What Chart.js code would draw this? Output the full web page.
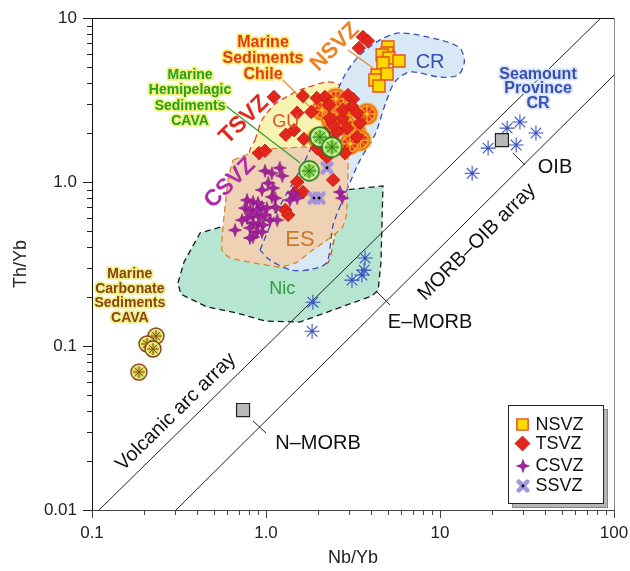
<!DOCTYPE html>
<html><head><meta charset="utf-8">
<script src="https://cdn.jsdelivr.net/npm/chart.js@4/dist/chart.umd.min.js"></script>
<style>html,body{margin:0;padding:0;background:#fff;}canvas{display:block;}</style>
</head><body>
<canvas id="c" width="630" height="571"></canvas>
<script>
// ---------------- DATA (Nb/Yb, Th/Yb) ----------------
const xTickValues = [0.1, 1, 10, 100];
const xTickLabels = ['0.1', '1.0', '10', '100'];
const yTickValues = [0.01, 0.1, 1, 10];
const yTickLabels = ['0.01', '0.1', '1.0', '10'];
const minorSteps = [2, 3, 4, 5, 6, 7, 8, 9];

const nsvz = [[5.02,6.65],[4.96,6.12],[4.65,5.95],[5.09,5.70],[4.70,5.32],[5.81,5.47],[4.35,4.49],[4.96,4.56],[4.23,4.19],[4.46,3.85]];
const tsvz = [[3.61,7.66],[3.85,7.24],[3.42,6.56],[1.11,3.30],[1.63,3.34],[1.96,3.25],[2.18,3.30],[2.30,2.95],[1.51,2.64],[1.82,2.67],[2.96,3.39],[3.16,3.21],[3.12,2.90],[1.30,1.94],[1.45,2.07],[1.65,1.83],[0.912,1.50],[0.987,1.55],[2.10,1.52],[2.24,1.42],[2.84,1.50],[2.43,1.80],[2.56,2.02],[2.74,2.45],[2.43,2.23],[2.18,1.99],[2.77,2.75],[3.33,2.64],[3.47,2.29],[3.33,1.88],[1.96,1.61],[2.43,1.03],[1.51,1.00],[1.63,0.869],[1.47,0.857],[1.29,0.675],[1.34,0.630],[2.92,2.13],[2.33,2.45]];
const csvz = [[0.987,1.17],[1.08,1.13],[1.20,1.22],[1.24,1.09],[0.948,0.894],[1.03,0.986],[1.10,0.918],[1.08,0.811],[1.13,0.798],[0.778,0.776],[0.842,0.755],[0.900,0.745],[0.757,0.693],[0.809,0.675],[0.887,0.675],[0.948,0.704],[1.01,0.693],[0.842,0.630],[0.924,0.612],[0.987,0.630],[0.778,0.603],[0.728,0.586],[1.055,0.586],[0.842,0.562],[0.900,0.547],[0.961,0.547],[0.809,0.525],[0.887,0.496],[0.948,0.496],[0.842,0.462],[0.809,0.456],[0.664,0.509],[1.16,0.586],[1.13,0.704],[1.373,0.776],[1.51,0.798],[1.43,0.857],[2.66,0.869],[2.74,0.798]];
const ssvz = [[2.24,1.22],[1.89,0.798],[2.02,0.798]];
const sedChile = [[2.10,2.75],[2.74,2.67],[3.80,2.60],[2.39,2.39],[3.25,2.02],[3.47,1.80],[3.04,1.71],[1.99,1.85],[2.52,3.21],[2.84,2.23]];
const sedHemipelagic = [[2.04,1.88],[2.39,1.63],[1.77,1.17]];
const sedCarbonate = [[0.233,0.115],[0.207,0.103],[0.224,0.0959],[0.186,0.0693]];
const seamountCR = [[28.8,2.32],[24.3,2.13],[35.6,1.99],[27.4,1.68],[18.9,1.61],[15.3,1.13],[3.71,0.344],[3.66,0.290],[3.56,0.271],[3.12,0.252],[1.86,0.185],[1.84,0.123]];
const referenceComps = [[0.738,0.0407],[22.7,1.80]]; // N-MORB, OIB

const regionNic = [[0.312,0.242],[0.338,0.325],[0.418,0.489],[0.581,0.540],[1.567,0.724],[2.84,0.894],[4.70,0.946],[4.58,0.325],[4.41,0.219],[4.06,0.202],[1.567,0.140],[0.987,0.142],[0.680,0.159],[0.458,0.173],[0.324,0.207]];
const regionCR = [[0.924,0.385],[1.127,0.630],[1.567,1.18],[2.18,2.39],[2.84,4.49],[3.47,5.95],[4.52,7.35],[5.89,8.11],[10,7.35],[13.0,6.56],[13.8,5.40],[12.7,4.49],[10,4.36],[6.73,4.69],[5.51,4.08],[4.83,2.95],[4.23,1.94],[3.47,1.36],[2.84,0.834],[2.43,0.547],[2.24,0.325],[1.86,0.295],[1.41,0.290],[1.055,0.334]];
const regionGU = [[0.865,1.80],[0.948,2.39],[1.127,2.99],[1.567,3.64],[2.24,4.08],[2.59,3.96],[3.47,3.16],[2.96,1.03],[2.49,0.475],[2.27,0.321],[1.91,0.308],[1.47,0.325],[0.709,0.776],[0.809,1.57]];
const regionES = [[0.646,1.36],[0.924,1.57],[1.567,1.63],[2.77,1.63],[2.96,1.46],[2.90,0.630],[2.74,0.525],[2.33,0.456],[1.79,0.374],[1.51,0.325],[1.203,0.303],[0.621,0.344],[0.558,0.385],[0.566,0.532],[0.605,1.03]];

const volcanicArcLine = [[0.1097,0.01],[84.1,10]];
const morbOibLine = [[0.304,0.01],[100,4.49]];
const leaderNMorb = [[0.842,0.0349],[1.0,0.0295]];
const leaderEMorb = [[4.29,0.216],[5.16,0.178]];
const leaderOib = [[26.3,1.50],[30.8,1.27]];
const leaderChile = [[1.25,4.19],[1.79,2.86]];
const leaderNsvz = [[2.96,6.38],[4.12,4.96]];
const leaderHemi = [[0.530,3.16],[1.567,1.31]];

// text annotations: anchors in data units
const annotations = [
  {key:'nic', text:['Nic'], at:[1.24,0.223]},
  {key:'cr', text:['CR'], at:[8.77,5.32]},
  {key:'gu', text:['GU'], at:[1.30,2.32]},
  {key:'es', text:['ES'], at:[1.567,0.442]},
  {key:'chile', text:['Marine','Sediments','Chile'], at:[0.961,5.62]},
  {key:'hemi', text:['Marine','Hemipelagic','Sediments','CAVA'], at:[0.366,3.25]},
  {key:'carb', text:['Marine','Carbonate','Sediments','CAVA'], at:[0.165,0.202]},
  {key:'sea', text:['Seamount','Province','CR'], at:[36.6,3.69]},
  {key:'nsvz', text:['NSVZ'], at:[2.49,6.65]},
  {key:'tsvz', text:['TSVZ'], at:[0.748,2.39]},
  {key:'csvz', text:['CSVZ'], at:[0.621,0.986]},
  {key:'arc', text:['Volcanic arc array'], at:[0.304,0.0396]},
  {key:'morboib', text:['MORB\u2013OIB array'], at:[16.3,0.430]},
  {key:'oib', text:['OIB'], at:[45.8,1.22]},
  {key:'emorb', text:['E\u2013MORB'], at:[8.77,0.140]},
  {key:'nmorb', text:['N\u2013MORB'], at:[1.99,0.0256]}
];

// ---------------- STYLES ----------------
const FONT = '"Liberation Sans", Arial, Helvetica, sans-serif';
const annStyle = {
  nic:{color:'#2f9e3a', font:'18px', lh:18},
  cr:{color:'#3a4fae', font:'20px', lh:20},
  gu:{color:'#e0522c', font:'18px', lh:18},
  es:{color:'#c8782e', font:'22px', lh:22},
  chile:{color:'#e3371f', font:'bold 16px', lh:16, halo:'#f5ef6c'},
  hemi:{color:'#22a022', font:'bold 14px', lh:15.3, halo:'#f2f07a'},
  carb:{color:'#8a4414', font:'bold 14px', lh:14.5, halo:'#eef08a'},
  sea:{color:'#3551b3', font:'bold 16px', lh:14.5, halo:'#dbe3f6'},
  nsvz:{color:'#f0821e', font:'bold 22px', lh:22, rot:'arc'},
  tsvz:{color:'#e3271b', font:'bold 23px', lh:23, rot:'arc'},
  csvz:{color:'#b02ca8', font:'bold 23px', lh:23, rot:'arc'},
  arc:{color:'#111', font:'20px', lh:20, rot:'arc'},
  morboib:{color:'#111', font:'20px', lh:20, rot:'morb'},
  oib:{color:'#111', font:'20px', lh:20},
  emorb:{color:'#111', font:'20px', lh:20},
  nmorb:{color:'#111', font:'20px', lh:20}
};

function mk(size, fn){ const c=document.createElement('canvas'); c.width=size; c.height=size; fn(c.getContext('2d'), size/2); return c; }
function ringSym(r, fill, edge, spoke, ring){
  const s = Math.ceil(2*r+4);
  return mk(s, (g,m)=>{
    g.beginPath(); g.arc(m,m,r,0,2*Math.PI); g.fillStyle=fill; g.fill();
    g.beginPath(); g.arc(m,m,r*0.78,0,2*Math.PI); g.strokeStyle=ring; g.lineWidth=1.3; g.stroke();
    g.strokeStyle=spoke; g.lineWidth=1;
    for(let i=0;i<8;i++){const a=i*Math.PI/4; g.beginPath(); g.moveTo(m,m); g.lineTo(m+r*0.76*Math.cos(a), m+r*0.76*Math.sin(a)); g.stroke();}
    g.beginPath(); g.arc(m,m,r,0,2*Math.PI); g.strokeStyle=edge; g.lineWidth=1.4; g.stroke();
  });
}
const symChile = ringSym(10.5,'#e8391d','#f3a21e','#f8d327','#f8d327');
const symHemi = ringSym(10,'#8fd64a','#1f7a1f','#1f7a1f','#f0fbd8');
const symCarb = ringSym(8,'#cdd94a','#8a4414','#8a4414','#f2f4a8');
const symCsvz = mk(16,(g,m)=>{
  g.beginPath(); const R=6.6, r=2.4;
  for(let i=0;i<8;i++){const a=-Math.PI/2+i*Math.PI/4; const rr=i%2?r:R; g.lineTo(m+rr*Math.cos(a), m+rr*Math.sin(a));}
  g.closePath(); g.fillStyle='#a4229f'; g.fill(); g.strokeStyle='#7e1479'; g.lineWidth=0.6; g.stroke();
});
const symSsvz = mk(16,(g,m)=>{
  g.strokeStyle='#a494dc'; g.lineWidth=4.6; g.lineCap='round';
  g.beginPath(); g.moveTo(m-4.3,m-4.3); g.lineTo(m+4.3,m+4.3); g.moveTo(m+4.3,m-4.3); g.lineTo(m-4.3,m+4.3); g.stroke();
  g.beginPath(); g.arc(m,m,1.4,0,2*Math.PI); g.fillStyle='#000'; g.fill();
});

const P = a => a.map(p=>({x:p[0], y:p[1]}));
const closed = a => P(a.concat([a[0]]));

function region(label, arr, fill, border, order, tension, mode){
  return {label, type:'line', data:closed(arr), order, tension,
    fill: mode==='border' ? false : 'shape',
    backgroundColor: fill, borderColor: border,
    borderWidth: mode==='fill' ? 0 : 1.3, borderDash:[6,4],
    pointRadius:0, pointHoverRadius:0};
}
function segment(arr, color, width, order){
  return {type:'line', data:P(arr), borderColor:color, borderWidth:width, pointRadius:0, fill:false, tension:0, order};
}

const datasets = [
  region('Nic', regionNic, '#b6e5d2', '#1a1a1a', 100, 0, 'both'),
  region('GU', regionGU, '#f7f3b2', '#e2452c', 90, 0.2, 'both'),
  region('CR', regionCR, '#d8e8f5', 'rgba(0,0,0,0)', 80, 0.3, 'fill'),
  region('ES', regionES, '#efd2b4', 'rgba(0,0,0,0)', 70, 0.15, 'fill'),
  region('CR', regionCR, 'rgba(0,0,0,0)', '#3a4fb8', 60, 0.3, 'border'),
  region('ES', regionES, 'rgba(0,0,0,0)', '#d8852e', 50, 0.15, 'border'),
  segment(volcanicArcLine, '#222', 1, 40),
  segment(morbOibLine, '#222', 1, 40),
  segment(leaderNMorb, '#222', 1, 39),
  segment(leaderEMorb, '#222', 1, 39),
  segment(leaderOib, '#222', 1, 39),
  segment(leaderChile, '#f08a2a', 1.2, 39),
  segment(leaderNsvz, '#f08a2a', 1.2, 39),
  segment(leaderHemi, '#2aa02a', 1.2, 39),
  {label:'Marine Carbonate Sediments CAVA', data:P(sedCarbonate), pointStyle:symCarb, order:30},
  {label:'Marine Sediments Chile', data:P(sedChile), pointStyle:symChile, order:29},
  {label:'TSVZ', legend:true, data:P(tsvz), pointStyle:'rectRot', pointRadius:6.8, backgroundColor:'#e3261b', borderColor:'#c01a10', borderWidth:0.8, order:26},
  {label:'NSVZ', legend:true, data:P(nsvz), pointStyle:'rect', pointRadius:8.5, backgroundColor:'#ffd800', borderColor:'#e4501e', borderWidth:1.4, order:25},
  {label:'Marine Hemipelagic Sediments CAVA', data:P(sedHemipelagic), pointStyle:symHemi, order:22},
  {label:'CSVZ', legend:true, data:P(csvz), pointStyle:symCsvz, order:20},
  {label:'SSVZ', legend:true, data:P(ssvz), pointStyle:symSsvz, order:18},
  {label:'Seamount Province CR', data:P(seamountCR), pointStyle:'star', pointRadius:7.5, borderColor:'#3a52c0', backgroundColor:'#3a52c0', borderWidth:1.1, order:16},
  {label:'N-MORB / OIB', data:P(referenceComps), pointStyle:'rect', pointRadius:9.2, backgroundColor:'#b8b8b8', borderColor:'#222', borderWidth:1.2, order:15}
];
const legendOrder = ['NSVZ','TSVZ','CSVZ','SSVZ'];

// ---------------- PLUGINS ----------------
function lineAngle(chart, seg){
  const x=chart.scales.x, y=chart.scales.y;
  return Math.atan2(y.getPixelForValue(seg[1][1])-y.getPixelForValue(seg[0][1]), x.getPixelForValue(seg[1][0])-x.getPixelForValue(seg[0][0]));
}
const decor = {
  id:'decor',
  afterDatasetsDraw(chart){
    const ctx=chart.ctx, xs=chart.scales.x, ys=chart.scales.y;
    const rots = {arc: lineAngle(chart, volcanicArcLine), morb: lineAngle(chart, morbOibLine)};
    ctx.save();
    ctx.textAlign='center'; ctx.textBaseline='middle';
    for(const an of annotations){
      const st=annStyle[an.key];
      const cx=xs.getPixelForValue(an.at[0]), cy=ys.getPixelForValue(an.at[1]);
      ctx.save(); ctx.translate(cx,cy);
      if(st.rot) ctx.rotate(rots[st.rot]);
      ctx.font = st.font+' '+FONT;
      const n=an.text.length;
      an.text.forEach((t,i)=>{
        const ty=(i-(n-1)/2)*st.lh;
        if(st.halo){ ctx.lineJoin='round'; ctx.strokeStyle=st.halo; ctx.lineWidth=3.5; ctx.strokeText(t,0,ty); }
        ctx.fillStyle=st.color; ctx.fillText(t,0,ty);
      });
      ctx.restore();
    }
    ctx.restore();
  },
  afterDraw(chart){
    const ctx=chart.ctx, a=chart.chartArea, xs=chart.scales.x, ys=chart.scales.y;
    ctx.save();
    ctx.lineWidth=1;
    ctx.strokeStyle='#111'; ctx.beginPath(); ctx.moveTo(a.left, a.top+0.5); ctx.lineTo(a.right, a.top+0.5); ctx.stroke();
    ctx.strokeStyle='#8a8a8a'; ctx.beginPath(); ctx.moveTo(a.right+0.5, a.top); ctx.lineTo(a.right+0.5, a.bottom); ctx.stroke();
    ctx.strokeStyle='#222';
    for(const v of yTickValues){
      const p=Math.round(ys.getPixelForValue(v))+0.5;
      ctx.beginPath(); ctx.moveTo(a.left-9,p); ctx.lineTo(a.left,p); ctx.stroke();
      if(v<yTickValues[yTickValues.length-1]) for(const m of minorSteps){
        const q=Math.round(ys.getPixelForValue(v*m))+0.5;
        ctx.beginPath(); ctx.moveTo(a.left-5,q); ctx.lineTo(a.left,q); ctx.stroke();
      }
    }
    ctx.strokeStyle='#444';
    for(const v of xTickValues){
      const p=Math.round(xs.getPixelForValue(v))+0.5;
      ctx.beginPath(); ctx.moveTo(p,a.bottom); ctx.lineTo(p,a.bottom+8); ctx.stroke();
      if(v<xTickValues[xTickValues.length-1]) for(const m of minorSteps){
        const q=Math.round(xs.getPixelForValue(v*m))+0.5;
        ctx.beginPath(); ctx.moveTo(q,a.bottom); ctx.lineTo(q,a.bottom+5); ctx.stroke();
      }
    }
    // legend box
    const w=95, h=98, x0=Math.round(a.right-11-w)+0.5, y0=Math.round(a.bottom-7-h)+0.5;
    ctx.fillStyle='#b5b5b5'; ctx.fillRect(x0+4,y0+4,w,h);
    ctx.strokeStyle='#888'; ctx.strokeRect(x0+4,y0+4,w,h);
    ctx.fillStyle='#fff'; ctx.fillRect(x0,y0,w,h);
    ctx.strokeStyle='#222'; ctx.strokeRect(x0,y0,w,h);
    const rows=[19,38,60,80];
    legendOrder.forEach((name,i)=>{
      const ds=chart.data.datasets.find(d=>d.legend && d.label===name);
      const sx=x0+14, sy=y0+rows[i];
      ctx.save();
      const st=ds.pointStyle;
      if(st instanceof HTMLCanvasElement){ ctx.drawImage(st, Math.round(sx-st.width/2), Math.round(sy-st.height/2)); }
      else {
        ctx.fillStyle=ds.backgroundColor; ctx.strokeStyle=ds.borderColor; ctx.lineWidth=ds.borderWidth;
        Chart.helpers.drawPoint(ctx, {pointStyle:st, radius: st==='rect'?8:7.5, borderWidth:ds.borderWidth, rotation:0}, sx, sy);
      }
      ctx.restore();
      ctx.fillStyle='#111'; ctx.font='18px '+FONT; ctx.textAlign='left'; ctx.textBaseline='middle';
      ctx.fillText(name, x0+27, sy+1);
    });
    ctx.restore();
  }
};

// ---------------- CHART ----------------
new Chart(document.getElementById('c'), {
  type:'scatter',
  data:{datasets},
  options:{
    responsive:false, animation:false, devicePixelRatio:1,
    layout:{padding:{top:18, right:16, left:0, bottom:0}},
    plugins:{legend:{display:false}, tooltip:{enabled:false}},
    events:[],
    scales:{
      x:{type:'logarithmic', min:0.1, max:100,
        afterBuildTicks:s=>{ s.ticks = xTickValues.map(v=>({value:v, major:true})); },
        afterFit:s=>{ s.height=61; s.paddingLeft=0; s.paddingRight=0; s.paddingTop=0; s.paddingBottom=0; },
        ticks:{autoSkip:false, maxRotation:0, padding:13, color:'#222', font:{family:FONT, size:17},
          callback:(v)=>xTickLabels[xTickValues.indexOf(v)]},
        grid:{display:false, drawTicks:false},
        border:{display:true, color:'#444', width:1},
        title:{display:true, text:'Nb/Yb', color:'#222', font:{family:FONT, size:18}, padding:{bottom:2, top:0}}
      },
      y:{type:'logarithmic', min:0.01, max:10,
        afterBuildTicks:s=>{ s.ticks = yTickValues.map(v=>({value:v, major:true})); },
        afterFit:s=>{ s.width=92; s.paddingLeft=0; s.paddingRight=0; s.paddingTop=0; s.paddingBottom=0; },
        ticks:{autoSkip:false, padding:15, color:'#222', font:{family:FONT, size:17},
          callback:(v)=>yTickLabels[yTickValues.indexOf(v)]},
        grid:{display:false, drawTicks:false},
        border:{display:true, color:'#111', width:1},
        title:{display:true, text:'Th/Yb', color:'#222', font:{family:FONT, size:18}, padding:{top:10, bottom:0}}
      }
    }
  },
  plugins:[decor]
});
</script>
</body></html>
